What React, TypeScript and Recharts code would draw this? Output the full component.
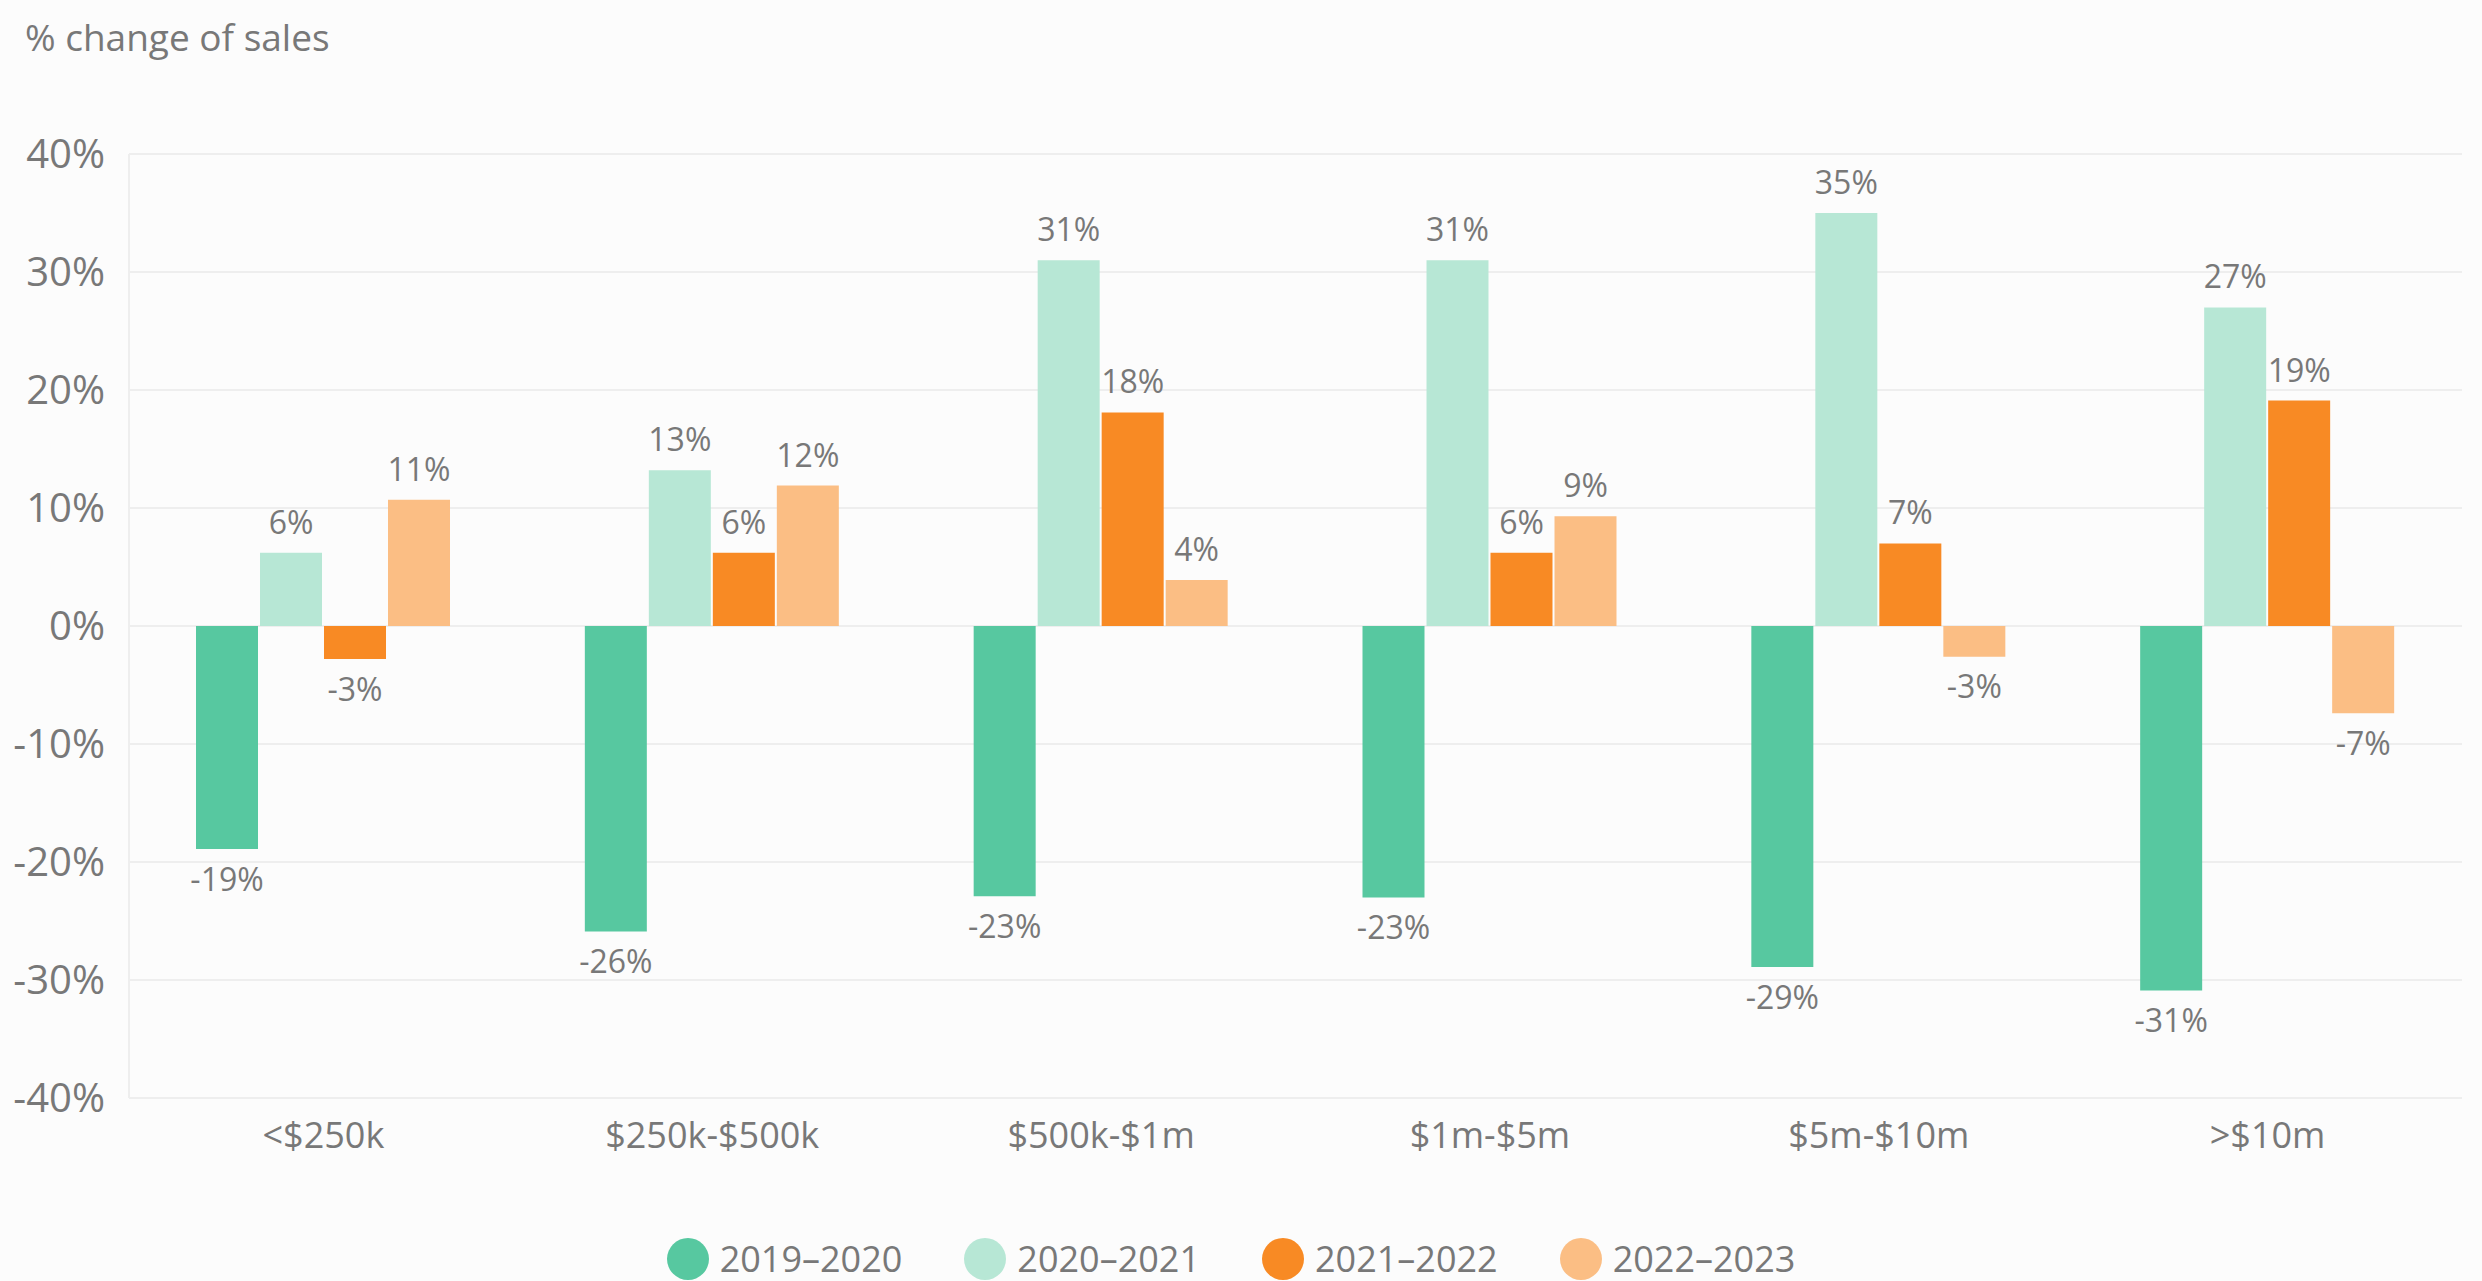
import React from 'react';
import { BarChart, Bar, XAxis, YAxis, CartesianGrid, Legend, LabelList } from 'recharts';

const categories = ['<$250k', '$250k-$500k', '$500k-$1m', '$1m-$5m', '$5m-$10m', '>$10m'];
const s2019_2020 = [-18.9, -25.9, -22.9, -23.0, -28.9, -30.9];
const s2020_2021 = [6.2, 13.2, 31.0, 31.0, 35.0, 27.0];
const s2021_2022 = [-2.8, 6.2, 18.1, 6.2, 7.0, 19.1];
const s2022_2023 = [10.7, 11.9, 3.9, 9.3, -2.6, -7.4];
const seriesNames = ['2019–2020', '2020–2021', '2021–2022', '2022–2023'];
const yTicks = [-40, -30, -20, -10, 0, 10, 20, 30, 40];

const colors = ['#57C8A0', '#B7E7D5', '#F88A24', '#FBBE84'];
const FONT = '"Open Sans", sans-serif';
const TEXT = '#787878';

const data = categories.map((c, i) => ({
  category: c,
  a: s2019_2020[i],
  b: s2020_2021[i],
  c: s2021_2022[i],
  d: s2022_2023[i],
}));
const keys = ['a', 'b', 'c', 'd'];

const renderLegend = (props: any) => {
  const { payload } = props;
  return (
    <div style={{ display: 'flex', justifyContent: 'center', alignItems: 'center', height: 44 }}>
      {payload.map((p: any, i: number) => (
        <div key={i} style={{ display: 'flex', alignItems: 'center', marginRight: i < payload.length - 1 ? 62 : 0 }}>
          <span style={{ width: 42, height: 42, borderRadius: '50%', background: p.color, display: 'inline-block', marginRight: 11 }} />
          <span style={{ fontSize: 36, color: TEXT, fontFamily: FONT, lineHeight: '44px' }}>{p.value}</span>
        </div>
      ))}
    </div>
  );
};

export default function App() {
  return (
    <div style={{ position: 'absolute', left: 0, top: 0, width: 2482, height: 1281, background: '#FCFCFC', fontFamily: FONT }}>
      <div style={{ position: 'absolute', left: 25, top: 12, fontSize: 37, color: TEXT, fontFamily: FONT, lineHeight: '50px' }}>
        % change of sales
      </div>
      <BarChart
        width={2482}
        height={1281}
        data={data}
        margin={{ top: 154, right: 20, left: 0, bottom: 0 }}
        barGap={2}
        barCategoryGap="17.4%"
      >
        <CartesianGrid vertical={false} stroke="#EEEEEE" strokeWidth={2} />
        <XAxis
          dataKey="category"
          height={139}
          axisLine={false}
          tickLine={false}
          tickMargin={18}
          tick={{ fontSize: 36, fill: TEXT, fontFamily: FONT }}
        />
        <YAxis
          width={129}
          domain={[-40, 40]}
          ticks={yTicks}
          tickFormatter={(v: number) => `${v}%`}
          axisLine={{ stroke: '#EEEEEE', strokeWidth: 2 }}
          tickLine={false}
          tickMargin={18}
          tick={{ fontSize: 40, fill: TEXT, fontFamily: FONT }}
        />
        <Legend
          verticalAlign="bottom"
          align="center"
          content={renderLegend}
          wrapperStyle={{ left: -10, width: 2482, bottom: 0 }}
        />
        {keys.map((k, i) => (
          <Bar key={k} dataKey={k} name={seriesNames[i]} fill={colors[i]} barSize={62} isAnimationActive={false}>
            <LabelList
              dataKey={k}
              position="top"
              offset={19}
              formatter={(v: any) => `${Math.round(Number(v))}%`}
              style={{ fontSize: 32, fill: TEXT, fontFamily: FONT }}
            />
          </Bar>
        ))}
      </BarChart>
    </div>
  );
}
